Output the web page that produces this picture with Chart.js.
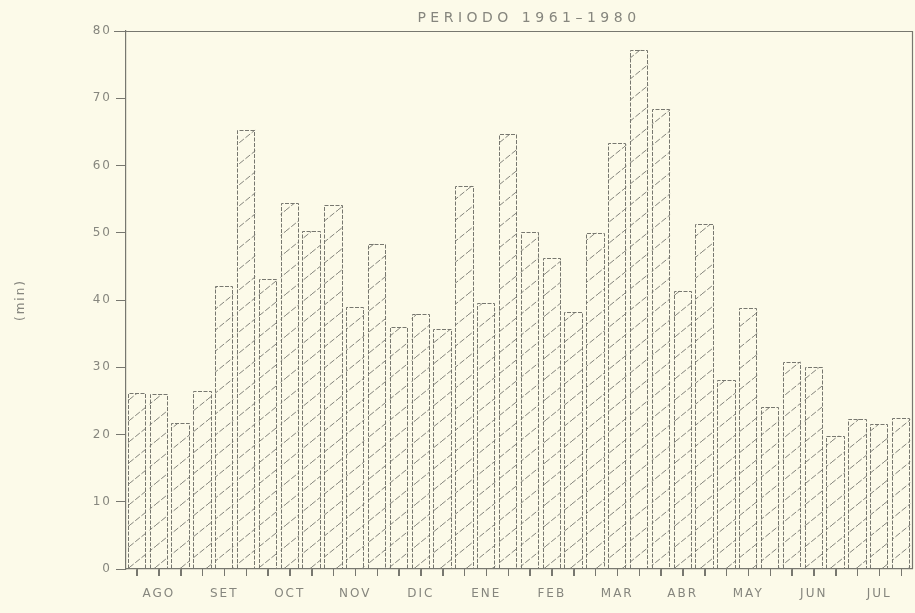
<!DOCTYPE html>
<html>
<head>
<meta charset="utf-8">
<script src="https://cdn.jsdelivr.net/npm/chart.js@4/dist/chart.umd.min.js"></script>
<style>
  html, body { margin: 0; padding: 0; background: #fcfae9; }
  #wrap { width: 915px; height: 613px; }
</style>
</head>
<body>
<div id="wrap"><canvas id="c" width="915" height="613"></canvas></div>
<script>
// Months of the hydrological year, each split into three ten-day periods
const months = ['AGO', 'SET', 'OCT', 'NOV', 'DIC', 'ENE', 'FEB', 'MAR', 'ABR', 'MAY', 'JUN', 'JUL'];
const decades = ['1', '2', '3'];

// Mean value per ten-day period, in minutes
const valores = [
  26.1, 26.0, 21.7,   // AGO
  26.4, 42.1, 65.3,   // SET
  43.1, 54.4, 50.2,   // OCT
  54.2, 39.0, 48.4,   // NOV
  36.0, 37.9, 35.7,   // DIC
  57.0, 39.5, 64.7,   // ENE
  50.1, 46.3, 38.2,   // FEB
  50.0, 63.3, 77.2,   // MAR
  68.4, 41.4, 51.3,   // ABR
  28.1, 38.8, 24.1,   // MAY
  30.8, 30.0, 19.8,   // JUN
  22.3, 21.5, 22.4    // JUL
];

const yMin = 0;
const yMax = 80;
const yStep = 10;

const titulo = 'PERIODO 1961\u20131980';
const unidad = '(min)';

const categorias = months.flatMap(m => decades.map(d => m + ' ' + d));

const INK = '#77776f';
const TEXT = '#86867e';
const FONT = '"DejaVu Sans", sans-serif';

// Diagonal hatch used to fill the bars
function makeHatch() {
  const w = 26, h = 21;
  const cv = document.createElement('canvas');
  cv.width = w; cv.height = h;
  const g = cv.getContext('2d');
  g.strokeStyle = '#83837b';
  g.lineWidth = 1;
  g.setLineDash([6, 2]);
  g.beginPath();
  g.moveTo(-1, h + h / w);
  g.lineTo(w + 1, -h / w);
  g.stroke();
  return g.createPattern(cv, 'repeat');
}

// Frame (top and right edges), dashed bar outlines, x tick marks and header text
const plotterPlugin = {
  id: 'plotter',
  beforeUpdate(chart) {
    chart.ctx.letterSpacing = '2px';
  },
  beforeDraw(chart) {
    chart.ctx.letterSpacing = '2px';
  },
  afterDatasetsDraw(chart) {
    const ctx = chart.ctx;
    const meta = chart.getDatasetMeta(0);
    ctx.save();
    ctx.strokeStyle = INK;
    ctx.lineWidth = 1;
    ctx.setLineDash([4, 1.5]);
    meta.data.forEach(el => {
      const p = el.getProps(['x', 'y', 'base', 'width'], true);
      const l = Math.round(p.x - p.width / 2) + 0.5;
      const r = Math.round(p.x + p.width / 2) - 0.5;
      const t = Math.round(p.y) + 0.5;
      ctx.beginPath();
      ctx.moveTo(l, p.base);
      ctx.lineTo(l, t);
      ctx.lineTo(r, t);
      ctx.lineTo(r, p.base);
      ctx.stroke();
    });
    ctx.restore();
  },
  afterDraw(chart) {
    const ctx = chart.ctx;
    const a = chart.chartArea;
    const xs = chart.scales.x;
    ctx.save();
    ctx.strokeStyle = INK;
    ctx.lineWidth = 1.2;
    ctx.beginPath();
    ctx.moveTo(a.left - 12, a.top + 0.5);
    ctx.lineTo(a.right + 0.5, a.top + 0.5);
    ctx.lineTo(a.right + 0.5, a.bottom);
    ctx.stroke();

    // one short mark under every ten-day bar
    ctx.lineWidth = 1;
    ctx.beginPath();
    xs.ticks.forEach((t, i) => {
      const px = Math.round(xs.getPixelForTick(i)) + 0.5;
      ctx.moveTo(px, a.bottom);
      ctx.lineTo(px, a.bottom + 7);
    });
    ctx.stroke();

    ctx.letterSpacing = '4.5px';
    ctx.fillStyle = TEXT;
    ctx.font = '14px ' + FONT;
    ctx.textAlign = 'center';
    ctx.textBaseline = 'middle';
    ctx.fillText(titulo, (a.left + a.right) / 2 + 10, a.top - 13);
    ctx.restore();
  }
};

new Chart(document.getElementById('c'), {
  type: 'bar',
  data: {
    labels: categorias,
    datasets: [{
      data: valores,
      backgroundColor: makeHatch(),
      borderWidth: 0,
      barPercentage: 0.84,
      categoryPercentage: 1.0
    }]
  },
  options: {
    responsive: false,
    animation: false,
    layout: { padding: { top: 31, right: 3, bottom: 0, left: 0 } },
    plugins: {
      legend: { display: false },
      tooltip: { enabled: false },
      title: { display: false }
    },
    scales: {
      x: {
        type: 'category',
        grid: {
          offset: false,
          drawOnChartArea: false,
          drawTicks: true,
          tickLength: 7,
          lineWidth: 1,
          color: INK
        },
        border: { display: true, color: INK, width: 1.2 },
        ticks: {
          autoSkip: false,
          maxRotation: 0,
          minRotation: 0,
          padding: 11,
          color: TEXT,
          font: { family: FONT, size: 12 },
          callback: (v, i) => (i % 3 === 1 ? months[Math.floor(i / 3)] : '')
        },
        afterFit: s => { s.height = 44; }
      },
      y: {
        min: yMin,
        max: yMax,
        grid: {
          drawOnChartArea: false,
          drawTicks: true,
          tickLength: 10,
          color: INK
        },
        border: { display: true, color: INK, width: 1.2 },
        ticks: {
          stepSize: yStep,
          padding: 4,
          color: TEXT,
          font: { family: FONT, size: 12 }
        },
        title: {
          display: true,
          text: unidad,
          color: TEXT,
          font: { family: FONT, size: 12 },
          padding: { top: 14, bottom: 0 }
        },
        afterFit: s => { s.width = 126; }
      }
    }
  },
  plugins: [plotterPlugin]
});
</script>
</body>
</html>
